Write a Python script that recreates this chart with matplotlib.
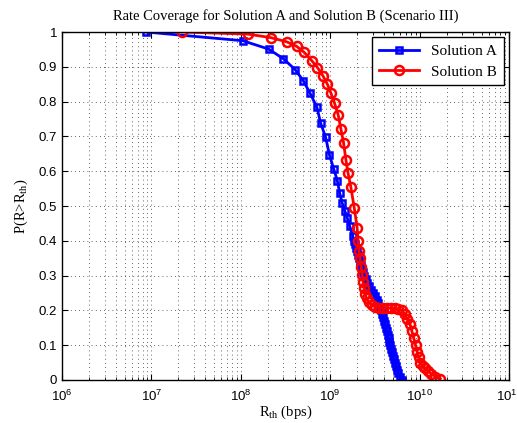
import matplotlib
matplotlib.use('Agg')
import matplotlib.pyplot as plt
from matplotlib.ticker import LogLocator, NullFormatter

# Solution A (rate in bps, coverage probability)
rate_a = [8.7e6, 1.05e8, 2.05e8, 3.0e8, 4.05e8, 5.0e8, 5.9e8, 7.1e8, 7.8e8, 8.9e8,
          9.8e8, 1.1e9, 1.2e9, 1.28e9, 1.36e9, 1.45e9, 1.55e9, 1.65e9, 1.78e9,
          1.85e9, 1.9e9, 1.95e9, 2.0e9, 2.05e9, 2.1e9, 2.15e9, 2.2e9, 2.25e9, 2.32e9,
          2.4e9, 2.5e9, 2.6e9, 2.72e9, 2.85e9, 3.0e9, 3.15e9, 3.3e9, 3.45e9, 3.6e9,
          3.7e9, 3.8e9, 3.9e9, 4.0e9, 4.1e9, 4.2e9, 4.3e9, 4.4e9, 4.5e9, 4.6e9,
          4.7e9, 4.8e9, 4.9e9, 5.0e9, 5.15e9, 5.3e9, 5.45e9, 5.6e9, 5.8e9, 6.0e9, 6.4e9]
cov_a = [1.0, 0.975, 0.951, 0.923, 0.892, 0.860, 0.826, 0.784, 0.739, 0.697,
         0.647, 0.605, 0.573, 0.536, 0.509, 0.487, 0.466, 0.443, 0.415,
         0.40, 0.39, 0.38, 0.37, 0.36, 0.35, 0.34, 0.33, 0.32, 0.31,
         0.30, 0.29, 0.28, 0.27, 0.26, 0.25, 0.24, 0.23, 0.22, 0.21,
         0.20, 0.19, 0.18, 0.17, 0.16, 0.15, 0.14, 0.13, 0.12, 0.11,
         0.10, 0.09, 0.08, 0.07, 0.06, 0.05, 0.04, 0.03, 0.02, 0.01, 0.0]

# Solution B
rate_b = [2.2e7, 1.2e8, 2.15e8, 3.25e8, 4.2e8, 5.1e8, 6.2e8, 7.2e8, 8.3e8, 9.3e8,
          1.02e9, 1.12e9, 1.23e9, 1.32e9, 1.41e9, 1.5e9, 1.58e9, 1.7e9, 1.86e9,
          2.0e9, 2.05e9, 2.1e9, 2.15e9, 2.22e9, 2.28e9, 2.33e9, 2.4e9, 2.45e9,
          2.55e9, 2.7e9, 2.9e9, 3.2e9, 3.5e9, 3.9e9, 4.3e9, 4.8e9, 5.3e9, 5.8e9,
          6.3e9, 6.8e9, 7.3e9, 7.8e9, 8.2e9, 8.6e9, 9.0e9, 9.4e9, 9.8e9, 1.02e10,
          1.08e10, 1.15e10, 1.25e10, 1.35e10, 1.5e10, 1.7e10]
cov_b = [1.0, 0.994, 0.984, 0.972, 0.959, 0.942, 0.918, 0.898, 0.874, 0.850,
         0.824, 0.795, 0.761, 0.720, 0.682, 0.632, 0.596, 0.555, 0.494,
         0.438, 0.400, 0.372, 0.350, 0.326, 0.302, 0.283, 0.264, 0.247,
         0.235, 0.225, 0.215, 0.210, 0.208, 0.207, 0.207, 0.207, 0.206, 0.204,
         0.200, 0.190, 0.175, 0.160, 0.140, 0.120, 0.100, 0.080, 0.065, 0.050,
         0.040, 0.033, 0.025, 0.018, 0.010, 0.003]

y_ticks = [0, 0.1, 0.2, 0.3, 0.4, 0.5, 0.6, 0.7, 0.8, 0.9, 1]
y_labels = ['0', '0.1', '0.2', '0.3', '0.4', '0.5', '0.6', '0.7', '0.8', '0.9', '1']

plt.rcParams['mathtext.fontset'] = 'custom'
plt.rcParams['mathtext.rm'] = 'Liberation Serif'
plt.rcParams['mathtext.it'] = 'Liberation Serif:italic'
plt.rcParams['mathtext.default'] = 'regular'

fig = plt.figure(figsize=(5.17, 4.23), dpi=100)
ax = fig.add_axes([0.12, 0.1017, 0.8645, 0.8226])

ax.plot(rate_a, cov_a, '-s', color='#0000ff', lw=2, ms=5, mfc='none', mew=1.8, label='Solution A')
ax.plot(rate_b, cov_b, '-o', color='#ff0000', lw=2, ms=6.5, mfc='none', mew=1.8, label='Solution B')

ax.set_xscale('log')
ax.set_xlim(1e6, 1e11)
ax.set_ylim(0, 1)
ax.xaxis.set_major_locator(LogLocator(base=10, numticks=10))
ax.xaxis.set_minor_locator(LogLocator(base=10, subs=range(2, 10), numticks=20))
ax.xaxis.set_minor_formatter(NullFormatter())
ax.set_yticks(y_ticks)
ax.set_yticklabels(y_labels)

grid_style = dict(ls=(0, (1, 4)), color='#333333', lw=0.6)
ax.grid(True, which='major', **grid_style)
ax.grid(True, which='minor', axis='x', **grid_style)
ax.tick_params(which='both', direction='in', top=True, right=True, labelsize=9.5)
ax.tick_params(which='major', length=4)
ax.tick_params(which='minor', length=2)
ax.tick_params(axis='x', pad=6)
for lab in ax.get_yticklabels() + ax.get_xticklabels():
    lab.set_fontfamily('Liberation Sans')
for s in ax.spines.values():
    s.set_linewidth(1.0)

serif = 'Liberation Serif'
ax.set_title('Rate Coverage for Solution A and Solution B (Scenario III)', fontsize=10.5,
             family=serif, pad=9)
ax.set_xlabel(r'R$_{\rm th}$ (bps)', fontsize=10.5, family=serif, labelpad=0)
ax.set_ylabel(r'P(R>R$_{\rm th}$)', fontsize=10.5, family=serif, labelpad=6)

leg = ax.legend(loc='upper right', prop={'family': serif, 'size': 11}, fancybox=False,
                framealpha=1, edgecolor='k', borderaxespad=0.35, handlelength=2.6,
                borderpad=0.45, labelspacing=0.45)
leg.get_frame().set_linewidth(1.0)

fig.savefig('out.png', dpi=100)
